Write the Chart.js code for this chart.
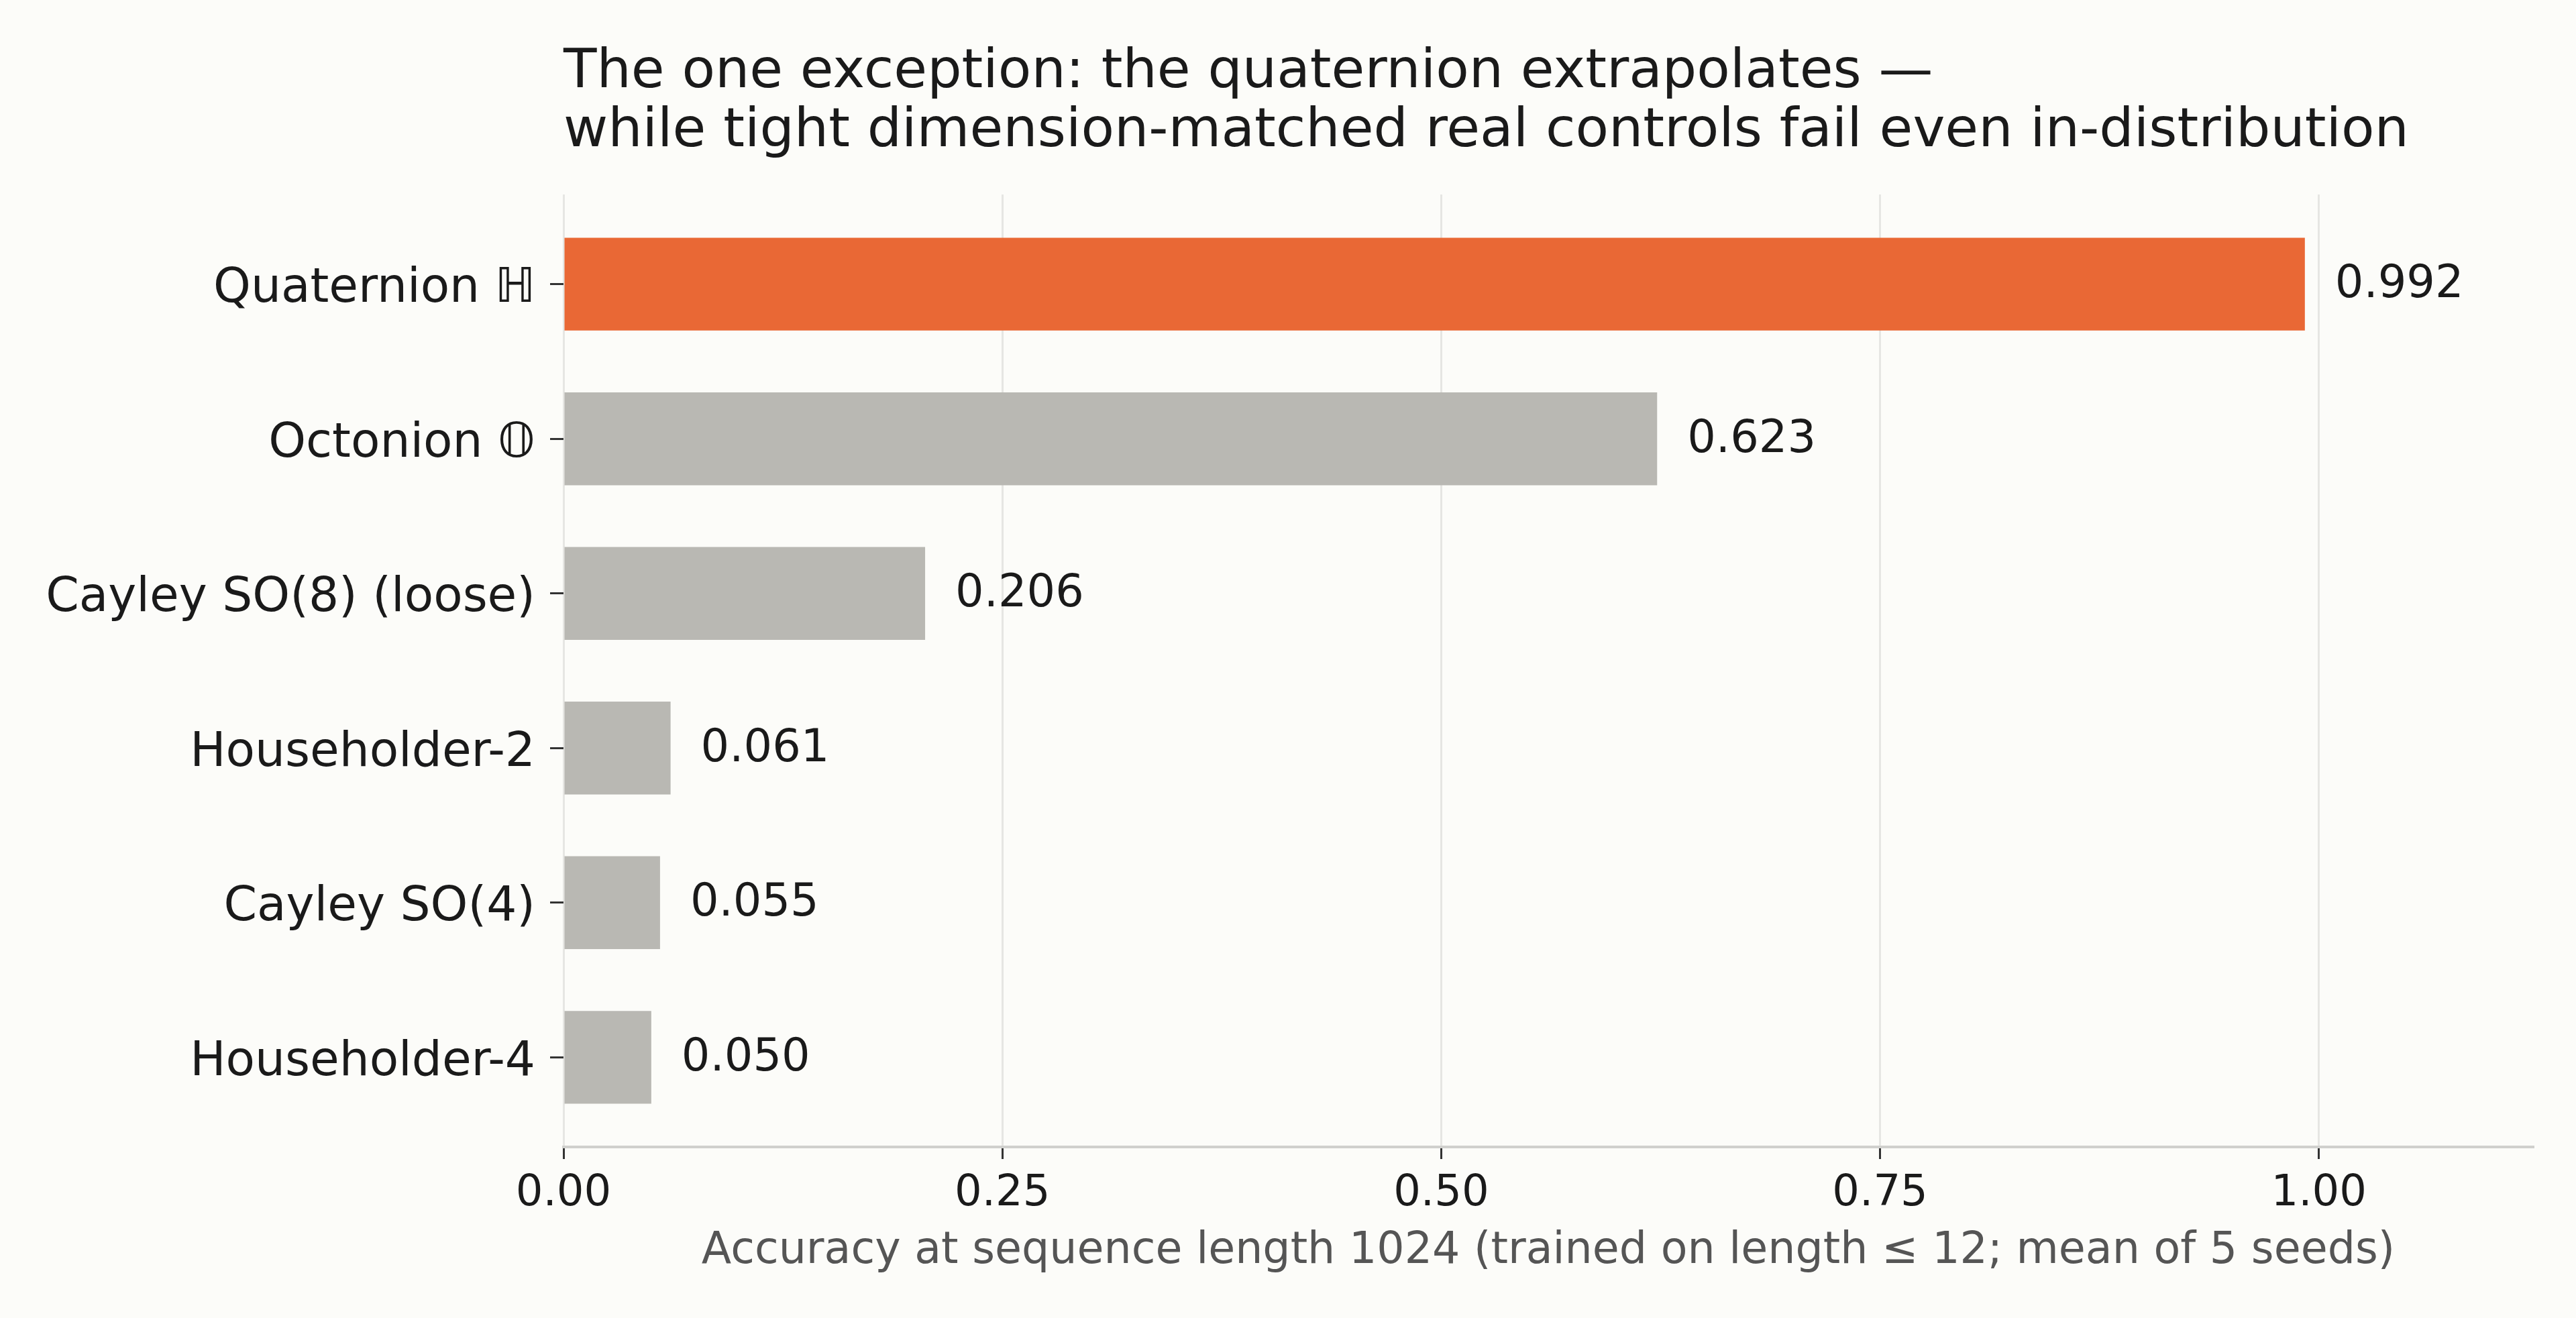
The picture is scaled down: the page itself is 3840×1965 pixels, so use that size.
<!DOCTYPE html>
<html>
<head>
<meta charset="utf-8">
<script src="https://cdn.jsdelivr.net/npm/chart.js@4.4.1/dist/chart.umd.min.js"></script>
<style>
    html, body { margin: 0; padding: 0; background: #fcfcf9; }
    #wrap { width: 3840px; height: 1965px; }
</style>
</head>
<body>
<div id="wrap"><canvas id="accChart"></canvas></div>
<script>
const CATEGORIES = [
    "Quaternion \u210D",
    "Octonion \uD835\uDD46",
    "Cayley SO(8) (loose)",
    "Householder-2",
    "Cayley SO(4)",
    "Householder-4",
];
const ACCURACY = [0.992, 0.623, 0.206, 0.061, 0.055, 0.050];
const X_TICKS = [0, 0.25, 0.5, 0.75, 1.0];
const TITLE_LINES = [
    "The one exception: the quaternion extrapolates \u2014",
    "while tight dimension-matched real controls fail even in-distribution",
];
const X_LABEL = "Accuracy at sequence length 1024 (trained on length \u2264 12; mean of 5 seeds)";

const COLOR = {
    bg: "#fcfcf9",
    highlight: "#e96835",
    bar: "#b9b8b3",
    text: "#1a1a1a",
    muted: "#555555",
    grid: "#e6e6e3",
    spine: "#d0d0cd",
};
const FONT = "'DejaVu Sans', sans-serif";

Chart.defaults.font.family = FONT;
Chart.defaults.color = COLOR.text;

const background = {
    id: "background",
    beforeDraw(chart) {
        const ctx = chart.ctx;
        ctx.save();
        ctx.fillStyle = COLOR.bg;
        ctx.fillRect(0, 0, chart.width, chart.height);
        ctx.restore();
    },
};

// two-line title, left aligned with the plot area
const leftTitle = {
    id: "leftTitle",
    afterDraw(chart) {
        const ctx = chart.ctx;
        ctx.save();
        ctx.fillStyle = COLOR.text;
        ctx.font = `81px ${FONT}`;
        ctx.textBaseline = "alphabetic";
        ctx.textAlign = "left";
        TITLE_LINES.forEach((line, i) => ctx.fillText(line, chart.chartArea.left, 130 + i * 88));
        ctx.restore();
    },
};

// value printed just past the end of each bar
const valueLabels = {
    id: "valueLabels",
    afterDatasetsDraw(chart) {
        const ctx = chart.ctx;
        const meta = chart.getDatasetMeta(0);
        ctx.save();
        ctx.fillStyle = COLOR.text;
        ctx.font = `67px ${FONT}`;
        ctx.textBaseline = "middle";
        ctx.textAlign = "left";
        meta.data.forEach((bar, i) => {
            ctx.fillText(ACCURACY[i].toFixed(3), bar.x + 45, bar.y + 2);
        });
        ctx.restore();
    },
};

new Chart(document.getElementById("accChart"), {
    type: "bar",
    data: {
        datasets: [{
            data: ACCURACY.map((v, i) => ({ x: v, y: i })),
            backgroundColor: ACCURACY.map((v, i) => i === 0 ? COLOR.highlight : COLOR.bar),
            borderWidth: 0,
            barPercentage: 0.6,
            categoryPercentage: 1.0,
        }],
    },
    options: {
        indexAxis: "y",
        responsive: true,
        maintainAspectRatio: false,
        animation: false,
        layout: { padding: { top: 290, right: 64, bottom: 0, left: 0 } },
        plugins: { legend: { display: false }, tooltip: { enabled: false } },
        scales: {
            x: {
                type: "linear",
                min: 0,
                max: 1.122,
                afterBuildTicks: (scale) => { scale.ticks = X_TICKS.map(v => ({ value: v })); },
                afterFit: (scale) => { scale.height = 255; },
                ticks: {
                    callback: (v) => Number(v).toFixed(2),
                    font: { size: 64 },
                    color: COLOR.text,
                    padding: 14,
                    maxRotation: 0,
                },
                grid: {
                    color: COLOR.grid,
                    lineWidth: 3,
                    tickColor: "#333333",
                    tickLength: 18,
                },
                border: { display: true, color: COLOR.spine, width: 4 },
                title: {
                    display: true,
                    text: X_LABEL,
                    color: COLOR.muted,
                    font: { size: 65 },
                    padding: { top: 0, bottom: 60 },
                },
            },
            y: {
                type: "linear",
                reverse: true,
                offset: false,
                min: -0.58,
                max: 5.58,
                afterBuildTicks: (scale) => { scale.ticks = CATEGORIES.map((c, i) => ({ value: i })); },
                afterFit: (scale) => { scale.width = 840; },
                ticks: {
                    callback: (v) => CATEGORIES[v],
                    font: { size: 71 },
                    color: COLOR.text,
                    padding: 22,
                    labelOffset: 8,
                    autoSkip: false,
                },
                grid: {
                    offset: false,
                    drawOnChartArea: false,
                    tickColor: "#333333",
                    tickLength: 20,
                    lineWidth: 3,
                },
                border: { display: false },
            },
        },
    },
    plugins: [background, leftTitle, valueLabels],
});
</script>
</body>
</html>
